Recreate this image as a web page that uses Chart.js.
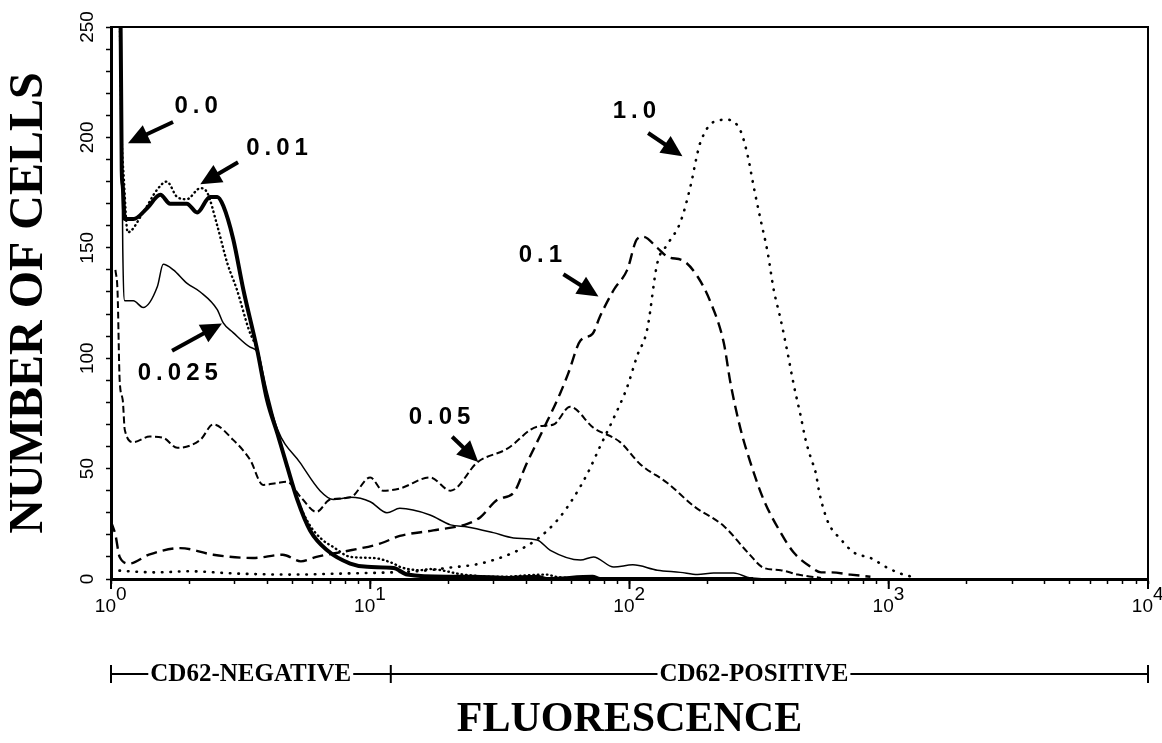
<!DOCTYPE html>
<html><head><meta charset="utf-8">
<script src="https://cdn.jsdelivr.net/npm/chart.js@4/dist/chart.umd.min.js"></script>
<style>html,body{margin:0;padding:0;background:#fff}canvas{display:block}</style>
</head><body>
<canvas id="c" width="1162" height="743"></canvas>
<script>
// ---- series: fluorescence (x) and number of cells (y) ----
const s00_x = [1.0, 1.08, 1.10, 1.11, 1.13, 1.22, 1.38, 1.55, 1.69, 1.96, 2.15, 2.41, 2.57, 2.71, 2.96, 3.24, 3.66, 4.0, 4.38, 4.78, 5.23, 5.86, 6.82, 8.37, 9.73, 12.3, 13.9, 19.8, 25, 34, 44, 48, 72, 77, 120, 300];
const s00_y = [300, 300, 185, 178, 163, 163, 168, 174, 170, 170, 166, 173, 173, 169, 154, 131, 104, 81, 66, 51, 36, 22, 13, 7, 5.5, 5, 2, 1, 1, 0.5, 1, 0, 1, 0, 0, 0];

const s01_x = [1.0, 1.06, 1.10, 1.12, 1.16, 1.33, 1.51, 1.64, 1.80, 1.96, 2.21, 2.35, 2.57, 2.81, 3.06, 3.4, 3.7, 4.0, 4.4, 4.8, 5.2, 5.8, 6.5, 7.2, 8.4, 10.3, 12.3, 13, 15.6, 17, 22.9, 31, 48, 52, 80];
const s01_y = [300, 300, 200, 182, 157, 166, 176.5, 180, 173, 172, 177, 175, 160, 143, 131, 113, 102, 82, 66, 50, 37, 25, 18, 14.5, 10, 9.5, 7, 5.5, 4, 4.5, 2, 1, 2, 1, 0];

const s025_x = [1.0, 1.09, 1.11, 1.13, 1.22, 1.33, 1.51, 1.59, 1.74, 1.96, 2.21, 2.57, 2.71, 2.96, 3.44, 3.66, 4.0, 4.38, 5.37, 6.4, 7.2, 8.4, 10, 11.6, 13, 17, 20.4, 23.7, 29.8, 35.7, 44, 49.5, 64.7, 72.6, 87, 103, 128, 157, 183, 211, 252, 293, 400];
const s025_y = [260, 250, 150, 126, 126, 123, 132.5, 142.5, 140, 134, 130, 122, 116, 111.6, 105, 103, 85, 68, 52.6, 40, 36, 37, 35, 30, 32, 29, 24.5, 23.6, 21, 18.6, 17.7, 13, 8.6, 10, 5.4, 6.4, 4, 3, 2, 2.7, 2.7, 0.5, 0];

const s05_x = [1.04, 1.06, 1.08, 1.11, 1.13, 1.22, 1.41, 1.59, 1.80, 2.21, 2.48, 2.96, 3.44, 3.86, 4.38, 4.78, 5.4, 6.2, 7.0, 8.4, 10, 11.2, 13, 17, 20.4, 26, 33.8, 44, 51, 59, 72.6, 92, 110, 140, 177, 231, 286, 330, 383, 446, 548];
const s05_y = [140, 130, 90, 81, 67.6, 62, 64.5, 64, 59.4, 63, 70, 63, 54, 42.6, 43.5, 44, 37, 30.4, 36, 37, 46, 40, 41, 46, 40, 53, 59, 69, 70, 78, 68.5, 62, 52, 43.5, 33, 24, 12, 5, 4, 2, 0.5];

const s1_x = [1.0, 1.04, 1.08, 1.18, 1.4, 1.85, 2.48, 3.53, 4.6, 5.4, 6.2, 8.4, 10.9, 13, 17.5, 23.7, 26.6, 31, 35.7, 40, 46.6, 54, 58, 64.7, 72, 77, 87, 98, 107, 113, 128, 140, 162, 183, 206, 231, 245, 268, 293, 329, 383, 430, 500, 548, 597, 713, 850];
const s1_y = [26, 20, 10, 7, 11, 14, 11, 9.5, 11, 8, 10, 13, 16, 19.5, 22, 25, 28, 36, 39, 52, 68, 84, 93, 108, 111, 119, 131, 140, 154, 155, 150, 146, 144, 137, 125, 107, 89, 68, 52.6, 36, 21, 12, 5.5, 3, 3, 2, 1];

const s10_x = [1.0, 1.5, 2.0, 3.0, 5.0, 8.0, 12, 17, 19.8, 26.6, 35.7, 44, 53, 61, 69, 77, 87, 98, 107, 117, 128, 140, 157, 172, 183, 188, 211, 239, 268, 286, 301, 320, 341, 360, 383, 407, 430, 457, 478, 500, 523, 538, 556, 587, 653, 733, 851, 991, 1140, 1230];
const s10_y = [4, 3, 3.5, 2.5, 2, 2.5, 3, 4, 5, 7, 12, 18, 27, 37, 48, 60, 73, 87, 101, 113, 143, 151.5, 161.5, 178, 193, 198, 207, 208, 203, 191.5, 178, 163, 148, 131, 117.5, 102.5, 88, 74, 63, 55, 48, 40, 33, 25, 18, 12, 9.5, 5, 2, 1];

const seriesNames = ['0.0', '0.01', '0.025', '0.05', '0.1', '1.0'];

// ---- axes ----
const xDecades = [1, 10, 100, 1000, 10000];
const xMantissas = [1, 2, 3, 4, 5, 6, 7, 8, 9];
const yLabelled = [0, 50, 100, 150, 200, 250];

// ---- region bracket ----
const regionNames = ['CD62-NEGATIVE', 'CD62-POSITIVE'];
const regionBounds = [1, 12, 10000];
const regionLabelAt = [3.46, 302];

// ---- annotations (data coordinates) ----
const annText  = ['0.0', '0.01', '0.025', '0.05', '0.1', '1.0'];
const annTextX = [2.13, 4.37, 1.81, 18.5, 45.3, 104.5];
const annTextY = [214, 195, 93, 73, 146.5, 212];
const annTailX = [1.735, 3.09, 1.72, 20.7, 55.6, 118];
const annTailY = [207, 188.7, 103.4, 64.4, 138, 202];
const annTipX  = [1.163, 2.21, 2.68, 26.1, 75.9, 160];
const annTipY  = [197.4, 178.8, 115.7, 53, 128, 191.5];

const pts = (xs, ys) => xs.map((v, i) => ({x: v, y: ys[i]}));
const styles = [
  {borderWidth: 4, borderDash: [], borderCapStyle: 'butt'},
  {borderWidth: 2.4, borderDash: [0.5, 4], borderCapStyle: 'round'},
  {borderWidth: 1.5, borderDash: [], borderCapStyle: 'butt'},
  {borderWidth: 2, borderDash: [7, 3.5], borderCapStyle: 'butt'},
  {borderWidth: 2.4, borderDash: [11, 6], borderCapStyle: 'butt'},
  {borderWidth: 2.6, borderDash: [0.5, 8], borderCapStyle: 'round'}
];
const allData = [pts(s00_x, s00_y), pts(s01_x, s01_y), pts(s025_x, s025_y), pts(s05_x, s05_y), pts(s1_x, s1_y), pts(s10_x, s10_y)];

const SERIF = '"Liberation Serif", "Times New Roman", serif';
const SANS = '"Liberation Sans", Arial, Helvetica, sans-serif';

const decor = {
  id: 'decor',
  afterDraw(chart) {
    const {ctx, chartArea: a, scales: {x, y}} = chart;
    ctx.save();
    ctx.strokeStyle = '#000';
    ctx.fillStyle = '#000';
    // frame top & right
    ctx.lineWidth = 2;
    ctx.beginPath();
    ctx.moveTo(a.left, a.top); ctx.lineTo(a.right, a.top); ctx.lineTo(a.right, a.bottom);
    ctx.stroke();
    // longer decade ticks
    ctx.lineWidth = 2;
    xDecades.forEach(v => {
      const px = x.getPixelForValue(v);
      ctx.beginPath(); ctx.moveTo(px, a.bottom); ctx.lineTo(px, a.bottom + 10); ctx.stroke();
    });
    // decade labels 10^k
    ctx.font = '19px ' + SANS;
    ctx.textBaseline = 'alphabetic';
    xDecades.forEach(v => {
      const px = x.getPixelForValue(v);
      ctx.textAlign = 'right';
      ctx.fillText('10', px + 5, a.bottom + 33);
      ctx.textAlign = 'left';
      ctx.fillText(String(Math.round(Math.log10(v))), px + 5, a.bottom + 21);
    });
    // region bracket
    const by = a.bottom + 95;
    const bx = regionBounds.map(v => x.getPixelForValue(v));
    ctx.lineWidth = 2;
    ctx.beginPath(); ctx.moveTo(bx[0], by); ctx.lineTo(bx[bx.length - 1], by); ctx.stroke();
    bx.forEach(px => { ctx.beginPath(); ctx.moveTo(px, by - 9); ctx.lineTo(px, by + 9); ctx.stroke(); });
    ctx.font = 'bold 25px ' + SERIF;
    ctx.textAlign = 'center';
    ctx.textBaseline = 'middle';
    regionNames.forEach((t, i) => {
      const px = x.getPixelForValue(regionLabelAt[i]);
      const w = ctx.measureText(t).width;
      ctx.fillStyle = '#fff';
      ctx.fillRect(px - w / 2 - 2, by - 12, w + 4, 24);
      ctx.fillStyle = '#000';
      ctx.fillText(t, px, by + 1);
    });
    // annotations
    ctx.font = 'bold 24px ' + SANS;
    ctx.letterSpacing = '5px';
    annText.forEach((t, i) => {
      const lx = x.getPixelForValue(annTextX[i]), ly = y.getPixelForValue(annTextY[i]);
      ctx.fillText(t, lx + 2.5, ly);
      const tx = x.getPixelForValue(annTailX[i]), ty = y.getPixelForValue(annTailY[i]);
      const hx = x.getPixelForValue(annTipX[i]), hy = y.getPixelForValue(annTipY[i]);
      const dx = hx - tx, dy = hy - ty, len = Math.hypot(dx, dy);
      const ux = dx / len, uy = dy / len;
      const headL = 21, headW = 10;
      const bxp = hx - ux * headL, byp = hy - uy * headL;
      ctx.lineWidth = 4;
      ctx.beginPath(); ctx.moveTo(tx, ty); ctx.lineTo(bxp + ux * 2, byp + uy * 2); ctx.stroke();
      ctx.beginPath();
      ctx.moveTo(hx, hy);
      ctx.lineTo(bxp - uy * headW, byp + ux * headW);
      ctx.lineTo(bxp + uy * headW, byp - ux * headW);
      ctx.closePath(); ctx.fill();
    });
    ctx.restore();
  }
};

new Chart(document.getElementById('c'), {
  type: 'line',
  data: {
    datasets: allData.map((d, i) => Object.assign({
      label: seriesNames[i],
      data: d,
      borderColor: '#000',
      backgroundColor: '#000',
      pointRadius: 0,
      fill: false,
      cubicInterpolationMode: 'monotone'
    }, styles[i]))
  },
  options: {
    responsive: false,
    animation: false,
    devicePixelRatio: 1,
    layout: {padding: {top: 27, right: 14, left: 0, bottom: 0}},
    plugins: {legend: {display: false}, tooltip: {enabled: false}},
    scales: {
      x: {
        type: 'logarithmic',
        min: 1, max: 10000,
        afterBuildTicks: s => {
          const t = [];
          xDecades.slice(0, -1).forEach(d => xMantissas.forEach(m => t.push({value: d * m})));
          t.push({value: xDecades[xDecades.length - 1]});
          s.ticks = t;
        },
        afterFit: s => { s.height = 164; },
        ticks: {display: false},
        grid: {drawOnChartArea: false, drawTicks: true, tickLength: 5, tickWidth: 1.5, tickColor: '#000'},
        border: {display: true, width: 3, color: '#000'},
        title: {display: true, text: 'FLUORESCENCE', color: '#000',
                font: {family: SERIF, size: 42, weight: 'bold', lineHeight: 1}, padding: {top: 0, bottom: 2}}
      },
      y: {
        min: 0, max: 250,
        afterFit: s => { s.width = 111; },
        ticks: {
          stepSize: 10, autoSkip: false, minRotation: 90, maxRotation: 90,
          crossAlign: 'center', padding: 2, color: '#000',
          font: {family: SANS, size: 19},
          callback: v => yLabelled.includes(v) ? String(v) : ''
        },
        grid: {drawOnChartArea: false, drawTicks: true, tickLength: 5, tickWidth: 1.5, tickColor: '#000'},
        border: {display: true, width: 3, color: '#000'},
        title: {display: true, text: 'NUMBER OF CELLS', color: '#000',
                font: {family: SERIF, size: 48, weight: 'bold', lineHeight: 1}, padding: {top: 6, bottom: 0}}
      }
    }
  },
  plugins: [decor]
});
</script>
</body></html>
